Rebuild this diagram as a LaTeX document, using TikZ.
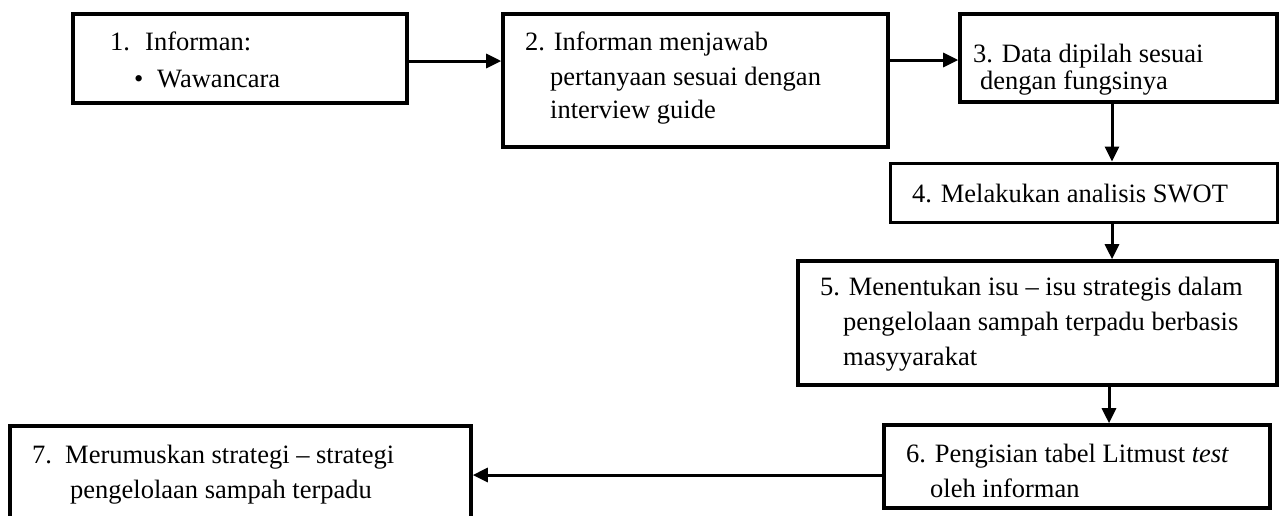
\documentclass[tikz,border=0pt]{standalone}
\usepackage{fontspec}
\setmainfont{Liberation Serif}
\usetikzlibrary{arrows.meta}
\begin{document}
\begin{tikzpicture}[x=1pt,y=-1pt,
  box/.style={draw,line width=3.6pt,inner sep=0pt,rectangle},
  thinbox/.style={draw,line width=3pt,inner sep=0pt,rectangle},
  txt/.style={anchor=base west,inner sep=0pt,font=\fontsize{26.5}{30}\selectfont},
  conn/.style={line width=3pt,-{Triangle[length=15pt,width=14pt]}}]
\useasboundingbox (0,0) rectangle (1284,515);
% boxes
\node[box,minimum width=334pt,minimum height=89pt] (B1) at (240,58.5) {};
\node[box,minimum width=385pt,minimum height=133pt] (B2) at (695.5,80.5) {};
\node[box,minimum width=317pt,minimum height=88pt] (B3) at (1118.5,58) {};
\node[thinbox,minimum width=387pt,minimum height=59pt] (B4) at (1083.5,192.5) {};
\node[box,minimum width=479pt,minimum height=124pt] (B5) at (1037.5,323) {};
\node[box,minimum width=386pt,minimum height=83pt] (B6) at (1077,466.5) {};
\node[box,minimum width=461pt,minimum height=120pt] (B7) at (240.5,486) {};
% texts
\node[txt] (t1a) at (110,50) {1.};
\node[txt] (t1b) at (145,50) {Informan:};
\node[txt] (t1c) at (134,87) {•};
\node[txt] (t1d) at (157,87) {Wawancara};
\node[txt] (t2a) at (525,50) {2. Informan menjawab};
\node[txt] (t2b) at (550,85) {pertanyaan sesuai dengan};
\node[txt] (t2c) at (550,118) {interview guide};
\node[txt] (t3a) at (973,62) {3. Data dipilah sesuai};
\node[txt] (t3b) at (980,89) {dengan fungsinya};
\node[txt] (t4) at (912,202) {4. Melakukan analisis SWOT};
\node[txt] (t5a) at (820,295) {5. Menentukan isu – isu strategis dalam};
\node[txt] (t5b) at (843,330) {pengelolaan sampah terpadu berbasis};
\node[txt] (t5c) at (843,365) {masyyarakat};
\node[txt] (t6a) at (906,462) {6. Pengisian tabel Litmust \textit{test}};
\node[txt] (t6b) at (930,497) {oleh informan};
\node[txt] (t7a) at (32,463) {7.};
\node[txt] (t7b) at (65,463) {Merumuskan strategi – strategi};
\node[txt] (t7c) at (70,498) {pengelolaan sampah terpadu};
% connectors
\draw[conn] ([yshift=-2.5pt]B1.east) -- ([yshift=-2.5pt]B1.east -| B2.west);
\draw[conn] ([yshift=-2pt]B3.west -| B2.east) -- ([yshift=-2pt]B3.west);
\draw[conn] ([xshift=-6.5pt]B3.south) -- ([xshift=-6.5pt]B3.south |- B4.north);
\draw[conn] ([xshift=-6.5pt]B3.south |- B4.south) -- ([xshift=-6.5pt]B3.south |- B5.north);
\draw[conn] ([xshift=-9.5pt]B3.south |- B5.south) -- ([xshift=-9.5pt]B3.south |- B6.north);
\draw[conn] ([yshift=-8.5pt]B6.west) -- ([yshift=-8.5pt]B6.west -| B7.east);
\end{tikzpicture}
\end{document}
